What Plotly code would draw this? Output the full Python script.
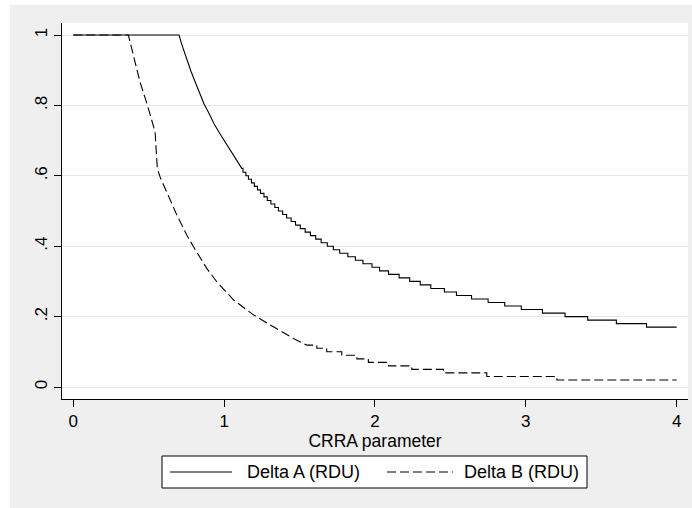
import plotly.graph_objects as go

# ---------------- data ----------------
x_ticks = [0, 1, 2, 3, 4]
x_tick_labels = ["0", "1", "2", "3", "4"]
y_ticks = [0, 0.2, 0.4, 0.6, 0.8, 1.0]
y_tick_labels = ["0", ".2", ".4", ".6", ".8", "1"]

series_names = ["Delta A (RDU)", "Delta B (RDU)"]
x_title = "CRRA parameter"

# Delta A: smooth-looking upper part (readings) then visible 0.01 steps
a_curve_x = [0.0, 0.701, 0.72, 0.745, 0.78, 0.818, 0.84, 0.867, 0.90, 0.933,
             0.97, 1.017, 1.05, 1.083, 1.117]
a_curve_y = [1.0, 1.0, 0.972, 0.940, 0.897, 0.856, 0.833, 0.804, 0.777, 0.748,
             0.721, 0.688, 0.666, 0.645, 0.621]
a_step_x = [1.125, 1.144, 1.161, 1.181, 1.200, 1.221, 1.241, 1.264, 1.286, 1.310,
            1.336, 1.360, 1.388, 1.414, 1.444, 1.473, 1.505, 1.537, 1.572, 1.607,
            1.643, 1.684, 1.724, 1.766, 1.82, 1.87, 1.92, 1.98, 2.03, 2.09,
            2.16, 2.23, 2.30, 2.37, 2.46, 2.54, 2.64, 2.75, 2.86, 2.97,
            3.11, 3.26, 3.41, 3.60, 3.80]
a_step_y = [0.61, 0.60, 0.59, 0.58, 0.57, 0.56, 0.55, 0.54, 0.53, 0.52,
            0.51, 0.50, 0.49, 0.48, 0.47, 0.46, 0.45, 0.44, 0.43, 0.42,
            0.41, 0.40, 0.39, 0.38, 0.37, 0.36, 0.35, 0.34, 0.33, 0.32,
            0.31, 0.30, 0.29, 0.28, 0.27, 0.26, 0.25, 0.24, 0.23, 0.22,
            0.21, 0.20, 0.19, 0.18, 0.17]
a_end_x = 4.0

# Delta B
b_curve_x = [0.0, 0.365, 0.442, 0.491, 0.542, 0.557, 0.575, 0.608, 0.686, 0.752,
             0.796, 0.885, 0.951, 1.063, 1.194, 1.326, 1.459, 1.548]
b_curve_y = [1.0, 1.0, 0.867, 0.801, 0.725, 0.621, 0.597, 0.564, 0.489, 0.432,
             0.399, 0.337, 0.299, 0.247, 0.205, 0.171, 0.138, 0.119]
b_step_x = [1.614, 1.68, 1.78, 1.88, 1.956, 2.09, 2.244, 2.454, 2.741, 3.206]
b_step_y = [0.11, 0.10, 0.09, 0.08, 0.07, 0.06, 0.05, 0.04, 0.03, 0.02]
b_end_x = 4.0


def stairs(cx, cy, sx, sy, end_x):
    xs, ys = list(cx), list(cy)
    for x, y in zip(sx, sy):
        xs += [x, x]
        ys += [ys[-1], y]
    xs.append(end_x)
    ys.append(ys[-1])
    return xs, ys


ax, ay = stairs(a_curve_x, a_curve_y, a_step_x, a_step_y, a_end_x)
bx, by = stairs(b_curve_x, b_curve_y, b_step_x, b_step_y, b_end_x)

# ---------------- geometry ----------------
W, H = 692, 508
L, R, T, B = 62, 4, 23, 109
PW, PH = W - L - R, H - T - B
FONT = "Liberation Sans, Arial, sans-serif"
DASH = "9px,4px"


def px(x):
    return (x - L) / PW


def py(y):
    return (H - B - y) / PH


fig = go.Figure()
fig.add_trace(go.Scatter(x=ax, y=ay, mode="lines", name=series_names[0],
                         line=dict(color="black", width=1.1), showlegend=False))
fig.add_trace(go.Scatter(x=bx, y=by, mode="lines", name=series_names[1],
                         line=dict(color="black", width=1.1, dash=DASH),
                         showlegend=False))

shapes = [
    # white strips outside the grey graph region
    dict(type="rect", xref="paper", yref="paper", x0=px(-5), x1=px(10),
         y0=py(H + 5), y1=py(-5), fillcolor="white", line=dict(width=0),
         layer="below"),
    dict(type="rect", xref="paper", yref="paper", x0=px(-5), x1=px(W + 5),
         y0=py(5), y1=py(-5), fillcolor="white", line=dict(width=0),
         layer="below"),
    # legend box
    dict(type="rect", xref="paper", yref="paper", x0=px(162), x1=px(587),
         y0=py(488), y1=py(456), fillcolor="white",
         line=dict(color="black", width=1)),
    dict(type="line", xref="paper", yref="paper", x0=px(170), x1=px(232),
         y0=py(472), y1=py(472), line=dict(color="black", width=1.1)),
    dict(type="line", xref="paper", yref="paper", x0=px(387), x1=px(453),
         y0=py(472), y1=py(472), line=dict(color="black", width=1.1, dash=DASH)),
]

annotations = [
    dict(text=series_names[0], xref="paper", yref="paper", x=px(245), y=py(472),
         xanchor="left", yanchor="middle", showarrow=False,
         font=dict(family=FONT, size=18, color="black")),
    dict(text=series_names[1], xref="paper", yref="paper", x=px(462), y=py(472),
         xanchor="left", yanchor="middle", showarrow=False,
         font=dict(family=FONT, size=18, color="black")),
]

fig.update_layout(
    width=W, height=H,
    margin=dict(l=L, r=R, t=T, b=B, pad=0),
    paper_bgcolor="#efefef",
    plot_bgcolor="white",
    font=dict(family=FONT, size=16, color="black"),
    shapes=shapes,
    annotations=annotations,
    showlegend=False,
    xaxis=dict(
        range=[-0.0749, 4.075], tickvals=x_ticks, ticktext=x_tick_labels,
        showgrid=False, zeroline=False, showline=True, linecolor="black",
        linewidth=1, ticks="outside", ticklen=7, tickwidth=1, tickcolor="black",
        tickfont=dict(family=FONT, size=17),
        title=dict(text=x_title, standoff=2, font=dict(family=FONT, size=17.5)),
    ),
    yaxis=dict(
        range=[-0.0341, 1.0341], tickvals=y_ticks, ticktext=y_tick_labels,
        showgrid=True, gridcolor="#e8e8e8", gridwidth=1, zeroline=False,
        showline=True, linecolor="black", linewidth=1, ticks="outside",
        ticklen=7, tickwidth=1, tickcolor="black", tickangle=-90,
        tickfont=dict(family=FONT, size=17),
    ),
)

fig.write_html(
    "out.html",
    config={"displayModeBar": False},
    post_script="document.body.style.margin='0';document.body.style.padding='0';",
)
